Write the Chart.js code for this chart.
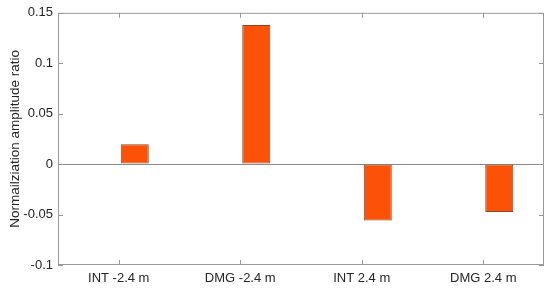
<!DOCTYPE html>
<html>
<head>
<meta charset="utf-8">
<script src="https://cdn.jsdelivr.net/npm/chart.js@4/dist/chart.umd.min.js"></script>
<style>
  html, body { margin: 0; padding: 0; background: #fff; }
  #wrap { width: 550px; height: 289px; }
</style>
</head>
<body>
<div id="wrap"><canvas id="chart"></canvas></div>
<script>
// data
const categories = ["INT -2.4 m", "DMG -2.4 m", "INT 2.4 m", "DMG 2.4 m"];
const ratioValues = [0.0196, 0.1378, -0.0559, -0.0474];
const emptySlot = [null, null, null, null]; // first (empty) group member, as in the original
const yTicks = [-0.1, -0.05, 0, 0.05, 0.1, 0.15];

const axisColor = "#9a9a9a";
const textColor = "#262626";

// box around the plot with small inward ticks on every side
const boxTicks = {
  id: "boxTicks",
  afterDraw(chart) {
    const { ctx, chartArea: a, scales } = chart;
    const len = 5;
    ctx.save();
    ctx.strokeStyle = axisColor;
    ctx.lineWidth = 1;
    ctx.strokeRect(a.left + 0.5, a.top + 0.5, a.right - a.left - 1, a.bottom - a.top - 1);
    ctx.beginPath();
    scales.y.ticks.forEach((t) => {
      const y = Math.round(scales.y.getPixelForValue(t.value)) + 0.5;
      ctx.moveTo(a.left, y); ctx.lineTo(a.left + len, y);
      ctx.moveTo(a.right, y); ctx.lineTo(a.right - len, y);
    });
    categories.forEach((c, i) => {
      const x = Math.round(scales.x.getPixelForTick(i)) + 0.5;
      ctx.moveTo(x, a.top); ctx.lineTo(x, a.top + len);
      ctx.moveTo(x, a.bottom); ctx.lineTo(x, a.bottom - len);
    });
    ctx.stroke();
    ctx.restore();
  },
};

new Chart(document.getElementById("chart"), {
  type: "bar",
  data: {
    labels: categories,
    datasets: [
      {
        label: "empty",
        data: emptySlot,
        backgroundColor: "rgba(0,0,0,0)",
        borderWidth: 0,
      },
      {
        label: "ratio",
        data: ratioValues,
        backgroundColor: "#fc5208",
        borderColor: "#8f4526",
        borderWidth: 1,
        borderSkipped: false,
      },
    ],
  },
  options: {
    responsive: true,
    maintainAspectRatio: false,
    animation: false,
    devicePixelRatio: 1,
    categoryPercentage: 0.527,
    barPercentage: 0.875,
    layout: { padding: { top: 10, right: 6, left: 0, bottom: 0 } },
    plugins: {
      legend: { display: false },
      tooltip: { enabled: false },
    },
    scales: {
      x: {
        grid: { display: false, drawTicks: false },
        border: { display: false },
        ticks: {
          color: textColor,
          font: { family: "Arial, 'Liberation Sans', sans-serif", size: 13 },
          padding: 6,
          maxRotation: 0,
        },
        afterFit: (s) => { s.height = 24; },
      },
      y: {
        min: -0.1,
        max: 0.15,
        afterBuildTicks: (s) => { s.ticks = yTicks.map((v) => ({ value: v })); },
        grid: {
          drawTicks: false,
          color: (ctx) => (ctx.tick && ctx.tick.value === 0 ? "#8c8c8c" : "rgba(0,0,0,0)"),
        },
        border: { display: false },
        ticks: {
          color: textColor,
          font: { family: "Arial, 'Liberation Sans', sans-serif", size: 13 },
          padding: 5,
          callback: (v) => String(Math.round(v * 100) / 100),
        },
        title: {
          display: true,
          text: "Normailziation amplitude ratio",
          color: textColor,
          font: { family: "Arial, 'Liberation Sans', sans-serif", size: 13.5 },
          padding: { top: 7, bottom: 0 },
        },
        afterFit: (s) => { s.width = 58; },
      },
    },
  },
  plugins: [boxTicks],
});
</script>
</body>
</html>
